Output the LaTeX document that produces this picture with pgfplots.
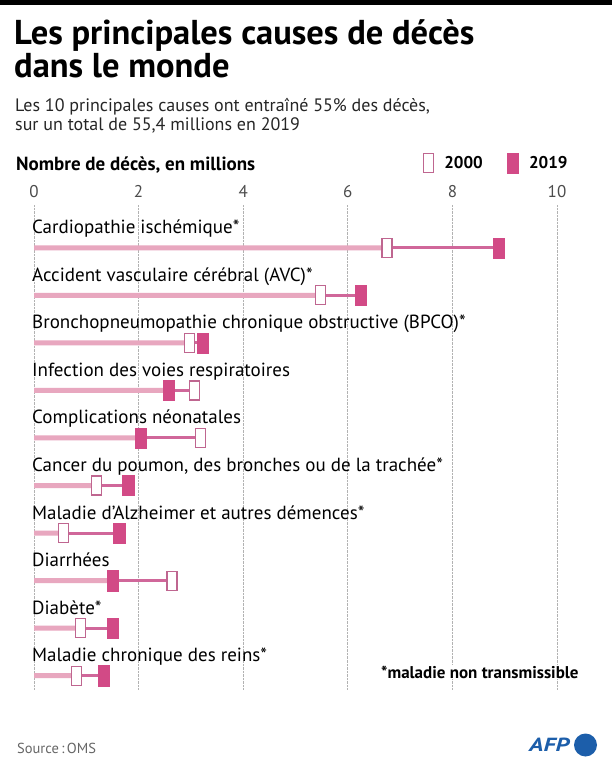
\documentclass[border=0pt]{standalone}
\usepackage{fontspec}
\setmainfont{PT Sans}
\usepackage{graphicx}
\usepackage{pgfplots}
\usepackage{pgfplotstable}
\pgfplotsset{compat=1.18}

\definecolor{pale}{HTML}{E8A7BF}
\definecolor{link}{HTML}{D0679A}
\definecolor{mag}{HTML}{D24A86}
\definecolor{edge}{HTML}{BF6690}
\definecolor{afpblue}{HTML}{1C5EAA}

% deces en millions, 2000 et 2019 (row 0 = en haut)
\pgfplotstableread{
row a2000 a2019
0 6.75 8.88
1 5.48 6.24
2 2.98 3.22
3 3.07 2.57
4 3.19 2.04
5 1.20 1.80
6 0.56 1.63
7 2.64 1.51
8 0.89 1.51
9 0.81 1.34
}\deaths

\newcommand{\lab}{\fontsize{19bp}{20bp}\selectfont}

\begin{document}
\begin{tikzpicture}
\useasboundingbox[fill=white] (0,0) rectangle (612bp,-768bp);

\begin{scope}[x=1bp,y=-1bp]
  \fill[black] (0,0) rectangle (612,5);
  % base anchor = baseline of the last line
  \node[anchor=base west, inner sep=0, align=left, font=\fontsize{34.5bp}{30bp}\bfseries] at (14,77) {Les principales causes de décès\\dans le monde};
  \node[anchor=base west, inner sep=0, align=left, font=\fontsize{18bp}{18.5bp}\selectfont, text=black!85] at (15,130) {Les 10 principales causes ont entraîné 55\% des décès,\\sur un total de 55,4 millions en 2019};
  \node[anchor=base west, inner sep=0, font=\fontsize{19bp}{19bp}\bfseries] at (16,170) {Nombre de décès, en millions};
\end{scope}

\begin{axis}[
  at={(34bp,-205bp)}, anchor=north west,
  scale only axis, width=523bp, height=485bp,
  xmin=0, xmax=10, ymin=-0.9, ymax=9.3, y dir=reverse,
  axis line style={draw=none},
  ytick=\empty,
  xtick={0,2,4,6,8,10},
  xticklabels={0,2,4,6,8,10},
  xticklabel pos=upper,
  major tick length=0pt,
  xticklabel style={font=\fontsize{17bp}{17bp}\selectfont, text=black!70, inner sep=0pt, anchor=south, yshift=7bp},
  xmajorgrids,
  grid style={densely dotted, black!30, line width=0.7bp},
  clip=false,
  legend columns=2,
  legend style={at={(axis description cs:0.744,1.087)}, anchor=west, draw=none, fill=none,
    font=\fontsize{17bp}{17bp}\bfseries, inner sep=0pt,
    /tikz/every odd column/.append style={column sep=9bp},
    /tikz/every even column/.append style={column sep=22bp}},
]
  \addplot[forget plot, xbar, bar width=5bp, fill=pale, draw=none]
    table[x expr={min(\thisrow{a2000},\thisrow{a2019})}, y=row]{\deaths};
  \addplot[forget plot, draw=link, line width=3bp, no marks,
    quiver={u={abs(\thisrow{a2019}-\thisrow{a2000})}, v=0}]
    table[x expr={min(\thisrow{a2000},\thisrow{a2019})}, y=row]{\deaths};
  \addplot[only marks, mark=square*, mark size=5bp,
    mark options={yscale=1.9, fill=white, draw=edge, line width=1.2bp}]
    table[x=a2000, y=row]{\deaths};
  \addlegendentry{2000}
  \addplot[only marks, mark=square*, mark size=5.6bp,
    mark options={yscale=1.8, fill=mag, draw=mag, line width=0.4bp}]
    table[x=a2019, y=row]{\deaths};
  \addlegendentry{2019}

  \begin{scope}[every node/.style={anchor=base west, inner sep=0, font=\lab, xshift=-2bp, yshift=14bp}]
  \node at (axis cs:0,0) {Cardiopathie ischémique*};
  \node at (axis cs:0,1) {Accident vasculaire cérébral (AVC)*};
  \node at (axis cs:0,2) {Bronchopneumopathie chronique obstructive (BPCO)*};
  \node at (axis cs:0,3) {Infection des voies respiratoires};
  \node at (axis cs:0,4) {Complications néonatales};
  \node at (axis cs:0,5) {Cancer du poumon, des bronches ou de la trachée*};
  \node at (axis cs:0,6) {Maladie d’Alzheimer et autres démences*};
  \node at (axis cs:0,7) {Diarrhées};
  \node at (axis cs:0,8) {Diabète*};
  \node at (axis cs:0,9) {Maladie chronique des reins*};
  \end{scope}
\end{axis}

\begin{scope}[x=1bp,y=-1bp]
  \node[anchor=base west, inner sep=1bp, fill=white, font=\fontsize{17bp}{17bp}\bfseries] at (380,678) {*maladie non transmissible};
  \node[anchor=base west, inner sep=0, font=\fontsize{14.5bp}{15bp}\selectfont, text=black!60] at (17,753) {Source\,:\,OMS};
  \node[anchor=base west, inner sep=0, font=\fontsize{19bp}{19bp}\bfseries\itshape, text=afpblue] at (529,751) {\scalebox{1.3}[1]{AFP}};
  \fill[afpblue] (585.5,745) circle (11.5);
\end{scope}
\end{tikzpicture}
\end{document}
